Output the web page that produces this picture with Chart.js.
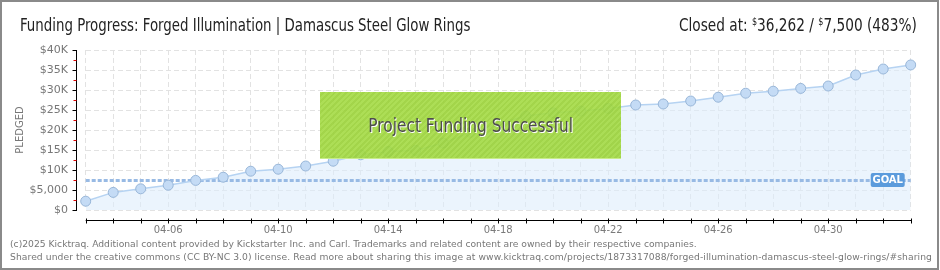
<!DOCTYPE html>
<html>
<head>
<meta charset="utf-8">
<script src="https://cdn.jsdelivr.net/npm/chart.js@4.4.1/dist/chart.umd.min.js"></script>
<style>
  html, body { margin: 0; padding: 0; background: #fff; }
  #frame { position: relative; width: 939px; height: 270px; border: 2px solid #8a8a8a; box-sizing: border-box; overflow: hidden; }
  #chart { position: absolute; left: -2px; top: -2px; }
  .hdr { position: absolute; top: 13px; font-family: "Liberation Sans Narrow", "DejaVu Sans Condensed", Roboto, sans-serif; font-size: 17px; color: #222; white-space: nowrap; }
  .hdr sup { font-size: 10px; vertical-align: 6px; }
  #title { left: 18px; transform: scaleX(0.873); transform-origin: left center; }
  #closed { right: 20px; transform: scaleX(0.895); transform-origin: right center; }
  #success { position: absolute; left: 318px; top: 90px; width: 301px; height: 66px;
    background: rgba(158, 216, 58, 0.9);
    background-image: repeating-linear-gradient(135deg, rgba(255,255,255,0.05) 0 2px, rgba(0,0,0,0.03) 2px 4px);
    border-bottom: 1px solid #c8ec8a;
    font-family: "Liberation Sans Narrow", "DejaVu Sans Condensed", Roboto, sans-serif; font-size: 19px; color: #4d4d4d;
    text-shadow: 1px 1px 0 #fff; display: flex; align-items: center; justify-content: center; }
  #success span { display: inline-block; transform: scaleX(0.9); }
  .foot { position: absolute; left: 8px; font-family: "DejaVu Sans", Verdana, sans-serif; font-size: 9.2px; color: #777; white-space: nowrap; }
</style>
</head>
<body>
<div id="frame">
  <canvas id="chart" width="940" height="270"></canvas>
  <div class="hdr" id="title">Funding Progress: Forged Illumination | Damascus Steel Glow Rings</div>
  <div class="hdr" id="closed">Closed at: <sup>$</sup>36,262 / <sup>$</sup>7,500 (483%)</div>
  <div id="success"><span>Project Funding Successful</span></div>
  <div class="foot" style="top:236px">(c)2025 Kicktraq. Additional content provided by Kickstarter Inc. and Carl. Trademarks and related content are owned by their respective companies.</div>
  <div class="foot" style="top:249px; letter-spacing:0.07px">Shared under the creative commons (CC BY-NC 3.0) license. Read more about sharing this image at www.kicktraq.com/projects/1873317088/forged-illumination-damascus-steel-glow-rings/#sharing</div>
</div>
<script>
// daily pledged totals, 04-03 .. 05-03
const days = ['04-03','04-04','04-05','04-06','04-07','04-08','04-09','04-10','04-11','04-12',
  '04-13','04-14','04-15','04-16','04-17','04-18','04-19','04-20','04-21','04-22',
  '04-23','04-24','04-25','04-26','04-27','04-28','04-29','04-30','05-01','05-02','05-03'];
const pledged = [2200, 4400, 5300, 6200, 7400, 8200, 9700, 10200, 11000, 12200,
  13800, 14600, 14900, 16750, 19400, 21600, 23500, 24300, 24750, 25400,
  26250, 26500, 27250, 28200, 29200, 29700, 30400, 31000, 33750, 35250, 36262];
const goal = 7500;
const xTickLabels = ['04-06', '04-10', '04-14', '04-18', '04-22', '04-26', '04-30'];
const yTickLabels = ['$0', '$5,000', '$10K', '$15K', '$20K', '$25K', '$30K', '$35K', '$40K'];

// axes are drawn detached from the plot, plus goal line & badge
const kicktraqAxes = {
  id: 'kicktraqAxes',
  beforeDatasetsDraw(chart) {
    const { ctx, chartArea: a, scales: { y } } = chart;
    const gy = Math.round(y.getPixelForValue(goal)) + 0.5;
    ctx.save();
    ctx.strokeStyle = '#98bae4';
    ctx.lineWidth = 3;
    ctx.setLineDash([4, 2]);
    ctx.beginPath();
    ctx.moveTo(a.left, gy);
    ctx.lineTo(a.right, gy);
    ctx.stroke();
    ctx.restore();
  },
  afterDraw(chart) {
    const { ctx, chartArea: a, scales: { x, y } } = chart;
    ctx.save();
    ctx.lineWidth = 1;
    const ax = Math.round(a.left - 10) + 0.5;
    const top = y.getPixelForValue(40000), bot = y.getPixelForValue(0);
    ctx.strokeStyle = '#000';
    ctx.beginPath();
    ctx.moveTo(ax, top); ctx.lineTo(ax, bot + 1);
    y.ticks.forEach(t => {
      const py = Math.round(y.getPixelForValue(t.value)) + 0.5;
      ctx.moveTo(ax - 4, py); ctx.lineTo(ax, py);
    });
    ctx.stroke();
    ctx.strokeStyle = '#e00000';
    ctx.beginPath();
    for (let i = 0; i < y.ticks.length - 1; i++) {
      const mid = (y.ticks[i].value + y.ticks[i + 1].value) / 2;
      const py = Math.round(y.getPixelForValue(mid)) + 0.5;
      ctx.moveTo(ax - 3, py); ctx.lineTo(ax, py);
    }
    ctx.stroke();
    // x axis
    const ay = Math.round(a.bottom + 10) + 0.5;
    ctx.strokeStyle = '#000';
    ctx.beginPath();
    ctx.moveTo(x.getPixelForValue(0), ay);
    ctx.lineTo(x.getPixelForValue(days.length - 1) + 1, ay);
    days.forEach((d, i) => {
      const px = Math.round(x.getPixelForValue(i)) + 0.5;
      ctx.moveTo(px, ay - 2); ctx.lineTo(px, ay + 3);
    });
    ctx.stroke();
    // goal badge
    const gy = y.getPixelForValue(goal);
    ctx.fillStyle = '#5b9bdc';
    ctx.beginPath();
    ctx.roundRect(a.right - 40, gy - 7, 34, 14, 2);
    ctx.fill();
    ctx.fillStyle = '#fff';
    ctx.font = 'bold 10px "DejaVu Sans", sans-serif';
    ctx.textAlign = 'center';
    ctx.textBaseline = 'middle';
    ctx.fillText('GOAL', a.right - 23, gy + 0.5);
    ctx.restore();
  }
};

new Chart(document.getElementById('chart'), {
  type: 'line',
  data: {
    labels: days,
    datasets: [{
      data: pledged,
      borderColor: '#b6d3f2',
      borderWidth: 1.5,
      fill: 'origin',
      backgroundColor: 'rgba(222, 236, 251, 0.6)',
      pointRadius: 5,
      pointBackgroundColor: '#c4dbf5',
      pointBorderColor: '#98b6d8',
      pointBorderWidth: 1,
      tension: 0
    }]
  },
  options: {
    responsive: false,
    animation: false,
    layout: { padding: { top: 50, right: 29.3, left: 0, bottom: 0 } },
    plugins: {
      legend: { display: false },
      tooltip: { enabled: false },
      filler: { drawTime: 'beforeDatasetsDraw' }
    },
    scales: {
      x: {
        offset: false,
        afterFit: s => { s.height = 60; },
        grid: { color: '#e2e2e2', drawTicks: false },
        border: { display: false, dash: [5, 3] },
        ticks: {
          autoSkip: false, maxRotation: 0, padding: 14,
          color: '#7a7a7a', font: { family: '"DejaVu Sans", sans-serif', size: 10 },
          callback: (v, i) => xTickLabels.includes(days[i]) ? days[i] : ''
        }
      },
      y: {
        min: 0, max: 40000,
        afterFit: s => { s.width = 85.7; },
        grid: { color: '#e2e2e2', drawTicks: false },
        border: { display: false, dash: [5, 3] },
        title: { display: true, text: 'PLEDGED', color: '#777', padding: { top: 14, bottom: 0 },
          font: { family: '"DejaVu Sans", sans-serif', size: 10 } },
        ticks: {
          stepSize: 5000, padding: 17.7,
          color: '#777', font: { family: '"DejaVu Sans", sans-serif', size: 11 },
          callback: (v, i) => yTickLabels[i]
        }
      }
    }
  },
  plugins: [kicktraqAxes]
});
</script>
</body>
</html>
